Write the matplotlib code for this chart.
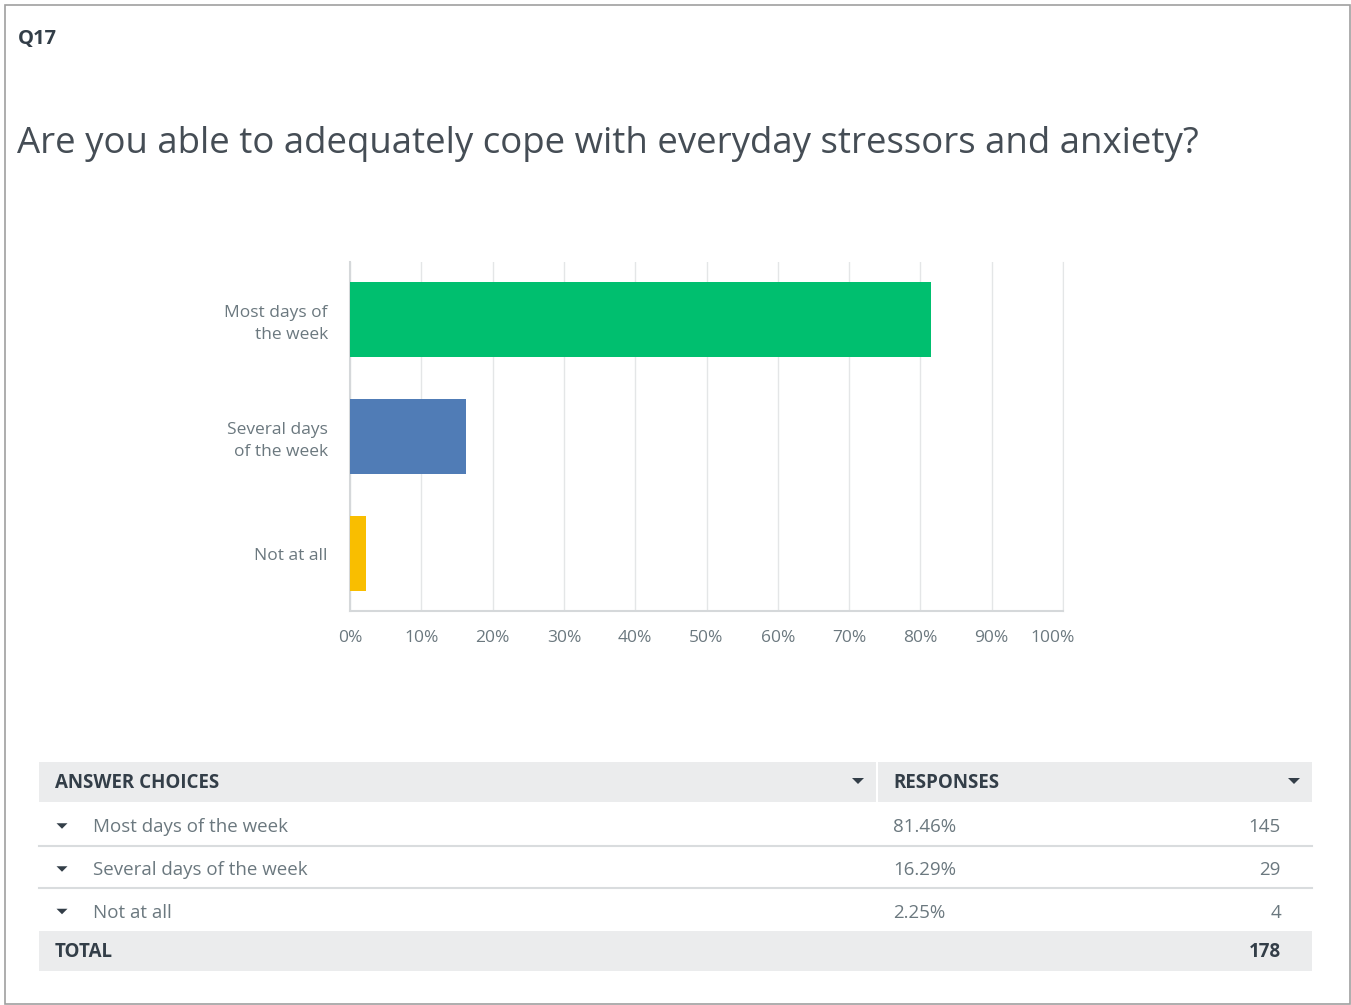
import matplotlib
matplotlib.use("Agg")
import matplotlib.pyplot as plt
from matplotlib.patches import Rectangle, Polygon
from matplotlib.ticker import FuncFormatter

W, H = 1351, 1005

question_id = "Q17"
question = "Are you able to adequately cope with everyday stressors and anxiety?"
choices = ["Most days of the week", "Several days of the week", "Not at all"]
axis_labels = ["Most days of\nthe week", "Several days\nof the week", "Not at all"]
percents = [81.46, 16.29, 2.25]
counts = [145, 29, 4]
total = 178
bar_colors = ["#00bf6f", "#507cb6", "#f9be00"]

plt.rcParams["font.family"] = ["Open Sans", "DejaVu Sans"]
TEXT = "#333e48"
TITLE = "#454d55"
LIGHT = "#6b787f"

fig = plt.figure(figsize=(W / 100, H / 100), dpi=100)


def fx(x):
    return x / W


def fy(y):
    return 1 - y / H


# page frame
fig.patches.append(Rectangle((fx(5), fy(1004)), fx(1345), (999) / H,
                             transform=fig.transFigure, fill=False,
                             edgecolor="#a0a0a0", linewidth=1.2))

fig.text(fx(18), fy(39), question_id, fontsize=14.5, fontweight="bold",
         color=TEXT, va="center", ha="left")
fig.text(fx(17), fy(144), question, fontsize=26.4, color=TITLE,
         va="center", ha="left")

# bar chart
ax = fig.add_axes([fx(350), fy(611), fx(1063 - 350), (611 - 262) / H])
ypos = list(range(len(percents)))
ax.barh(ypos, percents, height=0.64, color=bar_colors, zorder=3)
ax.set_xlim(0, 100)
ax.set_ylim(2.49, -0.49)
ticks = list(range(0, 101, 10))
ax.set_xticks(ticks)
# the 100% label is drawn separately so it stays inside the plot area
ax.xaxis.set_major_formatter(
    FuncFormatter(lambda v, _: "" if v >= 100 else f"{v:.0f}%"))
ax.annotate(f"{ticks[-1]}%", xy=(98.5, 0), xycoords=("data", "axes fraction"),
            xytext=(0, -14), textcoords="offset points",
            fontsize=12.5, color=LIGHT, ha="center", va="top")
ax.set_yticks(ypos)
ax.set_yticklabels(axis_labels, fontsize=12.5, color=LIGHT, linespacing=1.45,
                   ha="right")
ax.tick_params(axis="x", labelsize=12.5, labelcolor=LIGHT, length=0, pad=14)
ax.tick_params(axis="y", length=0, pad=16)
ax.grid(axis="x", color="#e4e6e7", linewidth=1, zorder=0)
ax.spines["top"].set_visible(False)
ax.spines["right"].set_color("#e4e6e7")
ax.spines["left"].set_color("#d5d8da")
ax.spines["bottom"].set_color("#d5d8da")
ax.spines["left"].set_linewidth(1.5)
ax.spines["bottom"].set_linewidth(1.5)

# response table
GREY = "#ebeced"
x0, x1, xsplit = 39, 1312, 877


def rect(xa, ya, xb, yb, color):
    fig.patches.append(Rectangle((fx(xa), fy(yb)), fx(xb - xa), (yb - ya) / H,
                                 transform=fig.transFigure, facecolor=color,
                                 edgecolor="none"))


def hline(y, color="#d9dcde"):
    fig.lines.append(plt.Line2D([fx(x0), fx(x1)], [fy(y), fy(y)],
                                transform=fig.transFigure, color=color,
                                linewidth=1.5))


def caret(x, y, size=6, color=TEXT):
    pts = [(fx(x - size), fy(y - size / 2)), (fx(x + size), fy(y - size / 2)),
           (fx(x), fy(y + size / 2))]
    fig.patches.append(Polygon(pts, closed=True, transform=fig.transFigure,
                               facecolor=color, edgecolor="none"))


rect(x0, 762, xsplit - 1, 802, GREY)
rect(xsplit + 1, 762, x1, 802, GREY)
fig.text(fx(55), fy(783), "ANSWER CHOICES", fontsize=13.5, fontweight="bold",
         color=TEXT, va="center")
fig.text(fx(893), fy(783), "RESPONSES", fontsize=13.5, fontweight="bold",
         color=TEXT, va="center")
caret(858, 781)
caret(1294, 781)

row_tops = [802, 846, 888]
row_h = [44, 42, 43]
for i, (name, pct, n) in enumerate(zip(choices, percents, counts)):
    yc = row_tops[i] + row_h[i] / 2 + 3
    caret(62, yc - 1, size=5.5)
    fig.text(fx(93), fy(yc), name, fontsize=13.5, color=LIGHT, va="center")
    fig.text(fx(893), fy(yc), f"{pct:.2f}%", fontsize=13.5, color=LIGHT,
             va="center")
    fig.text(fx(1281), fy(yc), str(n), fontsize=13.5, color=LIGHT,
             va="center", ha="right")
    if i < len(choices) - 1:
        hline(row_tops[i] + row_h[i])

rect(x0, 931, x1, 971, GREY)
fig.text(fx(55), fy(952), "TOTAL", fontsize=13.5, fontweight="bold",
         color=TEXT, va="center")
fig.text(fx(1281), fy(952), str(total), fontsize=13.5, fontweight="bold",
         color=TEXT, va="center", ha="right")

fig.savefig("out.png", dpi=100, facecolor="white")
